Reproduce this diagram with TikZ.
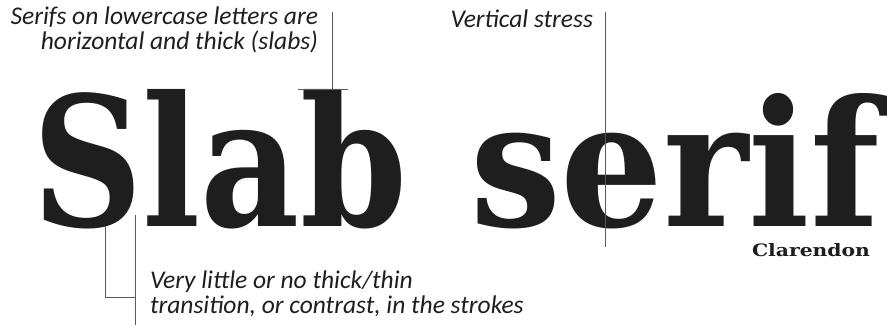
\documentclass[tikz,border=0pt]{standalone}
\usepackage{fontspec}
\usepackage{xcolor}
\usepackage{graphicx}
\setmainfont{Carlito}
\newfontfamily\slabfont{DejaVu Serif Condensed}
\definecolor{inkgray}{HTML}{1E1E1E}
\definecolor{leadgray}{HTML}{5A5A5A}

\begin{document}
\begin{tikzpicture}[x=1pt, y=-1pt, inner sep=0pt, outer sep=0pt]
  \useasboundingbox (0,0) rectangle (887,329);
  \tikzset{
    note/.style={font=\fontsize{25.5}{25}\selectfont\itshape, text=inkgray},
    lead/.style={draw=leadgray, line width=0.8pt}
  }

  % Schriftmuster
  \node[anchor=base west, text=inkgray] (slab) at (32,226)
    {\resizebox{375pt}{137pt}{\slabfont\bfseries Slab}};
  \node[anchor=base west, text=inkgray] (serif) at (470,226)
    {\resizebox{410pt}{133pt}{\slabfont\bfseries serif}};
  \node[anchor=base east, text=inkgray] (name) at (870,256)
    {\resizebox{118pt}{13pt}{\slabfont\bfseries Clarendon}};

  % Serifen oben
  \node[note, anchor=north east, align=right] (serifnote) at (318,7)
    {Serifs on lowercase letters are\\horizontal and thick (slabs)};
  \coordinate (serifTop) at (332,12);
  \coordinate (serifEnd) at (332,89);
  \coordinate (slabL) at (298,89);
  \coordinate (slabR) at (348,89);
  \draw[lead] (serifTop) -- (serifEnd);
  \draw[lead] (slabL) -- (slabR);

  % Achse
  \node[note, anchor=base east] (stressnote) at (593,28) {Vertical stress};
  \coordinate (stressTop) at (605,12);
  \coordinate (stressEnd) at (605,247);
  \draw[lead] (stressTop) -- (stressEnd);

  % Kontrast unten
  \node[note, anchor=north west, align=left] (contrastnote) at (150,271)
    {Very little or no thick/thin\\transition, or contrast, in the strokes};
  \coordinate (strokeA) at (105,226);
  \coordinate (bendA) at (105,297);
  \coordinate (bendB) at (135,297);
  \coordinate (strokeB) at (135,215);
  \coordinate (tailB) at (135,325);
  \draw[lead] (strokeA) -- (bendA) -- (bendB);
  \draw[lead] (strokeB) -- (tailB);
\end{tikzpicture}
\end{document}
